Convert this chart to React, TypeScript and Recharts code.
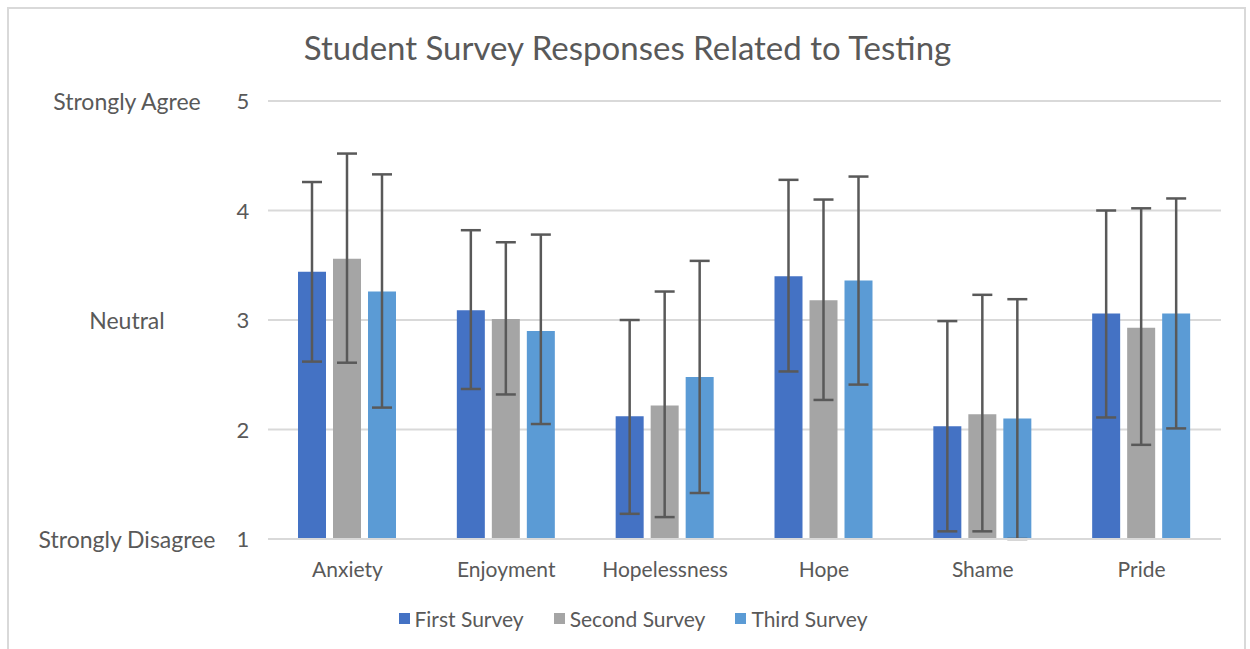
import { Bar, BarChart, CartesianGrid, ErrorBar, XAxis, YAxis } from 'recharts'

const categories = ['Anxiety', 'Enjoyment', 'Hopelessness', 'Hope', 'Shame', 'Pride']

const firstMean = [3.44, 3.09, 2.12, 3.4, 2.03, 3.06]
const firstHigh = [4.26, 3.82, 3.0, 4.28, 2.99, 4.0]
const firstLow = [2.62, 2.37, 1.23, 2.53, 1.07, 2.11]

const secondMean = [3.56, 3.01, 2.22, 3.18, 2.14, 2.93]
const secondHigh = [4.52, 3.71, 3.26, 4.1, 3.23, 4.02]
const secondLow = [2.61, 2.32, 1.2, 2.27, 1.07, 1.86]

const thirdMean = [3.26, 2.9, 2.48, 3.36, 2.1, 3.06]
const thirdHigh = [4.33, 3.78, 3.54, 4.31, 3.19, 4.11]
const thirdLow = [2.2, 2.05, 1.42, 2.41, 1.0, 2.01]

const yTicks = [1, 2, 3, 4, 5]
const yLabels: Record<number, string> = {
  5: 'Strongly Agree',
  3: 'Neutral',
  1: 'Strongly Disagree',
}

const series = [
  { key: 'first', name: 'First Survey', color: '#4472C4' },
  { key: 'second', name: 'Second Survey', color: '#A5A5A5' },
  { key: 'third', name: 'Third Survey', color: '#5B9BD5' },
]

const data = categories.map((name, i) => ({
  name,
  first: firstMean[i],
  firstErr: [firstMean[i] - firstLow[i], firstHigh[i] - firstMean[i]],
  second: secondMean[i],
  secondErr: [secondMean[i] - secondLow[i], secondHigh[i] - secondMean[i]],
  third: thirdMean[i],
  thirdErr: [thirdMean[i] - thirdLow[i], thirdHigh[i] - thirdMean[i]],
}))

const FONT = 'Lato, "Open Sans", sans-serif'
const TEXT = '#595959'

function YTick({ y, payload }: any) {
  const label = yLabels[payload.value]
  return (
    <g>
      {label && (
        <text x={127} y={y} dy={9} textAnchor="middle" fill={TEXT} fontSize={23} fontFamily={FONT}>
          {label}
        </text>
      )}
      <text x={243} y={y} dy={8} textAnchor="middle" fill={TEXT} fontSize={22} fontFamily={FONT}>
        {payload.value}
      </text>
    </g>
  )
}

export default function App() {
  return (
    <div style={{ position: 'relative', width: 1250, height: 649, background: '#fff', overflow: 'hidden' }}>
      <style>{'body{margin:0}'}</style>
      <div
        style={{
          position: 'absolute',
          left: 7,
          top: 7,
          width: 1239,
          height: 700,
          border: '2px solid #D9D9D9',
          boxSizing: 'border-box',
        }}
      />
      <div
        style={{
          position: 'absolute',
          top: 27,
          left: 0,
          width: 1255,
          textAlign: 'center',
          fontFamily: FONT,
          fontSize: 33,
          color: TEXT,
        }}
      >
        Student Survey Responses Related to Testing
      </div>
      <div style={{ position: 'absolute', left: 0, top: 0 }}>
        <BarChart
          width={1250}
          height={649}
          data={data}
          margin={{ top: 101, right: 29, bottom: 70, left: 0 }}
          barSize={28}
          barGap={7}
        >
          <CartesianGrid vertical={false} stroke="#D9D9D9" strokeWidth={2} />
          <XAxis
            dataKey="name"
            axisLine={{ stroke: '#D9D9D9', strokeWidth: 2 }}
            tickLine={false}
            height={40}
            tick={{ fill: TEXT, fontSize: 21, fontFamily: FONT, dy: 15 }}
          />
          <YAxis
            domain={[1, 5]}
            ticks={yTicks}
            width={268}
            axisLine={false}
            tickLine={false}
            tick={<YTick />}
          />
          {series.map((s) => (
            <Bar key={s.key} dataKey={s.key} name={s.name} fill={s.color} isAnimationActive={false}>
              <ErrorBar
                dataKey={`${s.key}Err`}
                direction="y"
                width={10}
                strokeWidth={2.5}
                stroke="#595959"
                isAnimationActive={false}
              />
            </Bar>
          ))}
        </BarChart>
      </div>
      <div
        style={{
          position: 'absolute',
          top: 606,
          left: 0,
          width: 1266,
          display: 'flex',
          justifyContent: 'center',
          gap: 30,
          fontFamily: FONT,
          fontSize: 21,
          color: TEXT,
        }}
      >
        {series.map((s) => (
          <div key={s.key} style={{ display: 'flex', alignItems: 'center', gap: 5 }}>
            <span style={{ width: 11, height: 11, background: s.color, display: 'inline-block' }} />
            <span>{s.name}</span>
          </div>
        ))}
      </div>
    </div>
  )
}
